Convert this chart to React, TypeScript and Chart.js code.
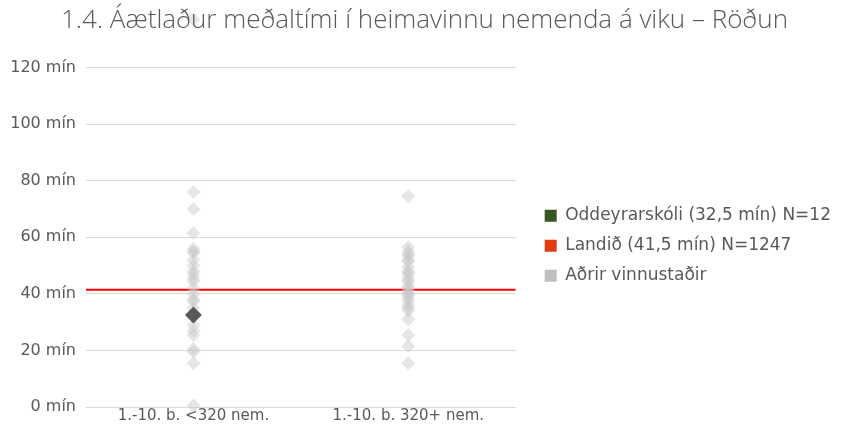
import React, { useEffect, useRef } from 'react';
import { Chart, registerables } from 'chart.js';

Chart.register(...registerables);

const categories = ['1.-10. b. <320 nem.', '1.-10. b. 320+ nem.'];
const smallSchools = [137, 76, 70, 61.5, 56, 55, 54.5, 52, 50, 48, 47, 45.5, 44.5, 42, 40, 38, 37.5, 35, 29, 27, 25.5, 20.5, 19.5, 15.5, 0.5];
const largeSchools = [74.5, 56.5, 55, 54, 53.5, 52, 51.5, 49.5, 48, 47.5, 46.5, 45, 44.5, 43, 42, 41, 40, 39.5, 38.5, 37.5, 36, 35, 34, 31, 25.5, 21.5, 15.5];
const schoolValue = 32.5;
const schoolCategory = categories[0];
const nationalValue = 41.5;
const yTickValues = [0, 20, 40, 60, 80, 100, 120];
const legendTexts = ['Oddeyrarskóli (32,5 mín) N=12', 'Landið (41,5 mín) N=1247', 'Aðrir vinnustaðir'];
const legendColors = ['#375623', '#E03C14', '#BFBFBF'];
const titleText = '1.4. Áætlaður meðaltími í heimavinnu nemenda á viku – Röðun';

const FONT = "'DejaVu Sans', sans-serif";
const TITLE_FONT = "'Open Sans', sans-serif";
const TEXT = '#595959';

export default function App() {
  const ref = useRef<HTMLCanvasElement | null>(null);

  useEffect(() => {
    if (!ref.current) return;
    const others = [
      ...smallSchools.map((v) => ({ x: categories[0], y: v })),
      ...largeSchools.map((v) => ({ x: categories[1], y: v })),
    ];
    const chart = new Chart(ref.current, {
      type: 'scatter',
      data: {
        datasets: [
          {
            label: legendTexts[0],
            data: [{ x: schoolCategory, y: schoolValue }],
            backgroundColor: '#595959',
            borderWidth: 0,
            pointStyle: 'rectRot',
            pointRadius: 8.5,
            order: 1,
          } as any,
          {
            label: legendTexts[2],
            data: others,
            backgroundColor: 'rgba(200,200,200,0.45)',
            borderWidth: 0,
            pointStyle: 'rectRot',
            pointRadius: 7,
            order: 2,
            clip: false,
          } as any,
          {
            type: 'line',
            label: legendTexts[1],
            xAxisID: 'x2',
            data: [
              { x: 0, y: nationalValue },
              { x: 1, y: nationalValue },
            ],
            borderColor: '#FF0000',
            borderWidth: 2,
            pointRadius: 0,
            order: 3,
          } as any,
        ],
      },
      options: {
        animation: false,
        responsive: false,
        layout: { padding: { left: 0, right: 0, bottom: 9, top: 2 } },
        scales: {
          x: {
            type: 'category',
            labels: categories,
            offset: true,
            grid: { display: false, drawTicks: false },
            border: { display: false },
            ticks: { color: TEXT, font: { family: FONT, size: 15 }, padding: 0, maxRotation: 0 },
          },
          x2: {
            type: 'linear',
            min: 0,
            max: 1,
            display: false,
          },
          y: {
            type: 'linear',
            min: 0,
            max: 137,
            afterBuildTicks: (s: any) => {
              s.ticks = yTickValues.map((v) => ({ value: v }));
            },
            afterFit: (s: any) => {
              s.width = 86;
            },
            grid: { color: '#D9D9D9', lineWidth: 1, drawTicks: false },
            border: { display: false },
            ticks: {
              color: TEXT,
              font: { family: FONT, size: 16 },
              padding: 10,
              callback: (v: any) => `${v} mín`,
            },
          },
          yR: {
            type: 'linear',
            position: 'right',
            display: true,
            grid: { display: false },
            border: { display: false },
            ticks: { display: false },
            afterFit: (s: any) => {
              s.width = 16;
            },
          },
        },
        plugins: {
          title: { display: false },
          legend: {
            position: 'right',
            maxWidth: 330,
            onClick: () => {},
            title: { display: true, text: ' ', font: { size: 12 }, padding: { top: 25, bottom: 25 } },
            labels: {
              boxWidth: 12,
              boxHeight: 12,
              padding: 13,
              color: TEXT,
              font: { family: FONT, size: 17 },
              generateLabels: () =>
                legendTexts.map((t, i) => ({
                  text: t,
                  fillStyle: legendColors[i],
                  strokeStyle: legendColors[i],
                  lineWidth: 0,
                  hidden: false,
                  datasetIndex: i,
                  fontColor: TEXT,
                })),
            },
          },
          tooltip: { enabled: false },
        },
      },
    });
    return () => chart.destroy();
  }, []);

  return (
    <div style={{ position: 'absolute', left: 0, top: 0, width: 841, height: 434, background: '#fff' }}>
      <canvas ref={ref} width={841} height={434} style={{ position: 'absolute', left: 0, top: 0 }} />
      <div
        style={{
          position: 'absolute',
          left: 0,
          top: 0,
          width: 841,
          paddingLeft: 8,
          boxSizing: 'border-box',
          textAlign: 'center',
          fontFamily: TITLE_FONT,
          fontWeight: 300,
          fontSize: 26,
          lineHeight: 'normal',
          color: TEXT,
          whiteSpace: 'nowrap',
          pointerEvents: 'none',
        }}
      >
        {titleText}
      </div>
    </div>
  );
}
